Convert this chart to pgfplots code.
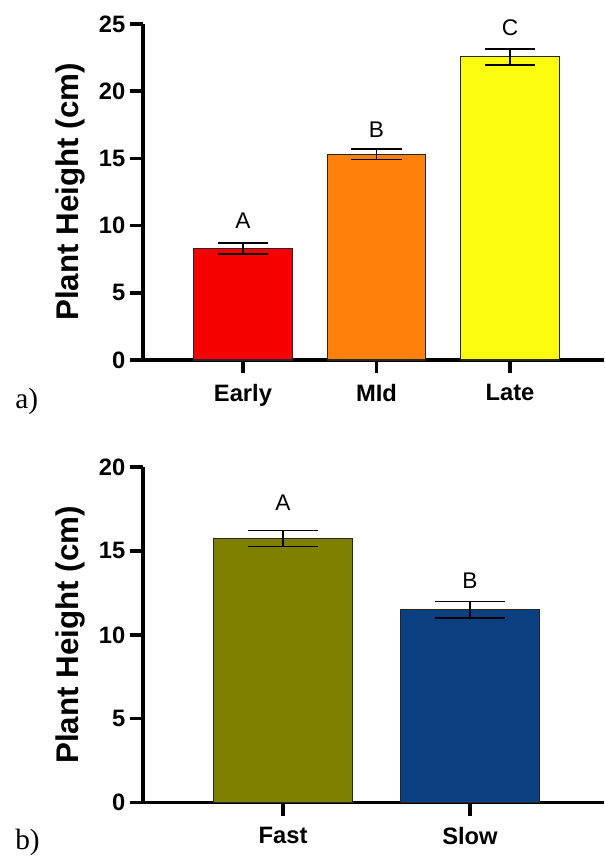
\documentclass[border=0pt]{standalone}
\usepackage{pgfplots}
\pgfplotsset{compat=1.18}
\usepackage{fontspec}
\setmainfont{Liberation Sans}
\newfontfamily\serif{Liberation Serif}
\definecolor{cEarly}{HTML}{F70000}
\definecolor{cMid}{HTML}{FF800A}
\definecolor{cLate}{HTML}{FCFC0F}
\definecolor{cFast}{HTML}{7F7F00}
\definecolor{cSlow}{HTML}{0A3F80}
\tikzset{lett/.style={font=\fontsize{17}{19}\selectfont}}
\pgfplotsset{
  panel/.style={
    scale only axis,
    anchor=south west,
    ybar, bar shift=0pt,
    axis x line*=bottom, axis y line*=left,
    axis line style={line width=2.6pt, black},
    tick align=outside,
    major tick length=9.75pt,
    every tick/.style={line width=2.6pt, black},
    ymin=0,
    clip=false,
    /pgf/number format/assume math mode=true,
    ticklabel style={font=\bfseries\fontsize{17.8}{20}\selectfont},
    xticklabel style={yshift=-5pt},
    every axis y label/.style={at={([xshift=-54.75pt]axis description cs:0,0.5)}, rotate=90, anchor=center,
      font=\bfseries\fontsize{23.5}{26}\selectfont},
    error bars/y dir=both, error bars/y explicit,
    error bars/error bar style={line width=1.1pt, black},
  },
  bar/.style={draw=black!85, line width=0.8pt},
}
\begin{document}
\begin{tikzpicture}
\path[use as bounding box] (0,0) rectangle (453pt,642pt);
% panel a
\begin{axis}[panel, at={(107.25pt,372pt)}, width=345.75pt, height=252pt,
  xmin=-0.749, xmax=2.704, ymax=25, ytick={0,5,10,15,20,25},
  xtick={0,1,2}, xticklabels={Early,MId,Late}, bar width=0.735,
  ylabel={Plant Height (cm)},
  error bars/error mark options={rotate=90, line width=1.1pt, black, mark size=19pt}]
\addplot[bar, fill=cEarly] coordinates {(0,8.3) +- (0,0.4)};
\addplot[bar, fill=cMid] coordinates {(1,15.3) +- (0,0.4)};
\addplot[bar, fill=cLate] coordinates {(2,22.55) +- (0,0.6)};
\node[lett] at (axis cs:0,10.35) {A};
\node[lett] at (axis cs:1,17.1) {B};
\node[lett] at (axis cs:2,24.75) {C};
\end{axis}
% panel b
\begin{axis}[panel, at={(107.25pt,40pt)}, width=345.75pt, height=251.75pt,
  xmin=-0.749, xmax=1.717, ymax=20, ytick={0,5,10,15,20},
  xtick={0,1}, xticklabels={Fast,Slow}, bar width=0.74,
  ylabel={Plant Height (cm)},
  error bars/error mark options={rotate=90, line width=1.1pt, black, mark size=26.25pt}]
\addplot[bar, fill=cFast] coordinates {(0,15.75) +- (0,0.48)};
\addplot[bar, fill=cSlow] coordinates {(1,11.5) +- (0,0.5)};
\node[lett] at (axis cs:0,17.9) {A};
\node[lett] at (axis cs:1,13.2) {B};
\end{axis}
\node[anchor=west, inner sep=0pt, font=\serif\fontsize{22}{24}\selectfont] at (11.25pt,341pt) {a)};
\node[anchor=west, inner sep=0pt, font=\serif\fontsize{22}{24}\selectfont] at (11.25pt,10pt) {b)};
\end{tikzpicture}
\end{document}
